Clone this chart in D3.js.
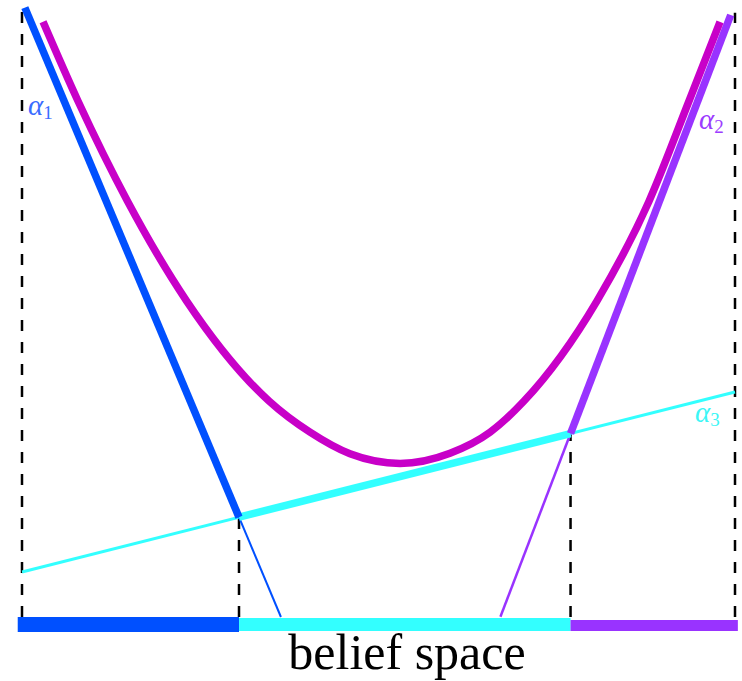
<!DOCTYPE html>
<html>
<head>
<meta charset="utf-8">
<script src="https://cdn.jsdelivr.net/npm/d3@7"></script>
<style>
  html, body { margin: 0; padding: 0; background: #fff; }
  svg { display: block; }
</style>
</head>
<body>
<svg id="chart" width="742" height="681"></svg>
<script>
// Alpha vectors: value of each linear function at belief 0 and belief 1
const alphaNames = ["1", "2", "3"];
const alphaAt0 = [102.7, -208.3, 7.5];
const alphaAt1 = [-180.1, 102.2, 37.5];
// belief range over which each alpha line is drawn
const alphaFrom = [0.004, 0.671, 0.0];
const alphaTo = [0.364, 0.994, 1.0];

// Optimal value function (smooth curve) sampled along the belief axis
const curveBelief = [0.0295, 0.0785, 0.148, 0.2307, 0.3464, 0.4039, 0.46, 0.5302, 0.6003, 0.6564, 0.7041, 0.8065, 0.8794, 0.9355, 0.979];
const curveValue = [99.2, 86.0, 69.3, 52.7, 36.0, 30.8, 27.2, 25.6, 27.3, 30.8, 36.0, 52.7, 69.3, 86.0, 99.2];

// Height of the dashed belief-simplex borders
const borderBelief = [0, 1];
const borderTop = [101.7, 100.7];

// Extent of the partition bar under the belief axis
const barExtent = [-0.006, 1.004];

const axisLabel = "belief space";

const colors = { a1: "#0050ff", a2: "#9933ff", a3: "#33ffff", curve: "#c800c8" };

const svg = d3.select("#chart");
const x = d3.scaleLinear().domain([0, 1]).range([22, 735]);
const y = d3.scaleLinear().domain([0, 100]).range([617, 17]);

const val = (i, b) => alphaAt0[i] + (alphaAt1[i] - alphaAt0[i]) * b;
// belief at which two alpha lines cross
const cross = (i, j) => (alphaAt0[j] - alphaAt0[i]) /
  ((alphaAt1[i] - alphaAt0[i]) - (alphaAt1[j] - alphaAt0[j]));
const b13 = cross(0, 2);
const b23 = cross(1, 2);
const zero = i => -alphaAt0[i] / (alphaAt1[i] - alphaAt0[i]);

const line = d3.line().x(d => x(d[0])).y(d => y(d[1]));
const seg = (i, b0, b1) => [[b0, val(i, b0)], [b1, val(i, b1)]];

// dashed verticals: simplex borders and region boundaries
const dashes = [
  [[borderBelief[0], 0], [borderBelief[0], borderTop[0]]],
  [[borderBelief[1], 0], [borderBelief[1], borderTop[1]]],
  [[b13, 0], [b13, val(2, b13)]],
  [[b23, 0], [b23, val(2, b23)]]
];
svg.append("g").selectAll("path").data(dashes).join("path")
  .attr("d", line)
  .attr("fill", "none")
  .attr("stroke", "#000")
  .attr("stroke-width", 2.5)
  .attr("stroke-dasharray", "11,11");

// thin (dominated) parts of the alpha lines
const thin = [
  { d: seg(2, alphaFrom[2], alphaTo[2]), c: colors.a3, w: 3 },
  { d: seg(0, b13, Math.min(alphaTo[0], zero(0))), c: colors.a1, w: 2 },
  { d: seg(1, Math.max(alphaFrom[1], zero(1)), b23), c: colors.a2, w: 2.5 }
];
svg.append("g").selectAll("path").data(thin).join("path")
  .attr("d", d => line(d.d))
  .attr("fill", "none")
  .attr("stroke", d => d.c)
  .attr("stroke-width", d => d.w);

// thick (upper envelope) parts
const thick = [
  { d: seg(2, b13, b23), c: colors.a3 },
  { d: seg(0, alphaFrom[0], b13), c: colors.a1 },
  { d: seg(1, b23, alphaTo[1]), c: colors.a2 }
];
svg.append("g").selectAll("path").data(thick).join("path")
  .attr("d", d => line(d.d))
  .attr("fill", "none")
  .attr("stroke", d => d.c)
  .attr("stroke-width", 7.5)
  .attr("stroke-linejoin", "round");

// smooth value function
const curvePts = curveBelief.map((b, i) => [b, curveValue[i]]);
svg.append("path")
  .attr("d", d3.line().x(d => x(d[0])).y(d => y(d[1])).curve(d3.curveMonotoneX)(curvePts))
  .attr("fill", "none")
  .attr("stroke", colors.curve)
  .attr("stroke-width", 7.5);

// partition bar: which alpha vector is best on each belief region
const bars = [
  { b0: barExtent[0], b1: b13, c: colors.a1, dy: 0, h: 15 },
  { b0: b13, b1: b23, c: colors.a3, dy: 1, h: 13 },
  { b0: b23, b1: barExtent[1], c: colors.a2, dy: 3, h: 11 }
];
svg.append("g").selectAll("rect").data(bars).join("rect")
  .attr("x", d => x(d.b0))
  .attr("width", d => x(d.b1) - x(d.b0))
  .attr("y", d => y(0) + d.dy)
  .attr("height", d => d.h)
  .attr("fill", d => d.c);

// alpha labels
const labelPos = [[28, 115], [699, 129], [695, 422]];
const labelColor = ["#3a6cff", "#9c3cff", "#3cf6f6"];
alphaNames.forEach((n, i) => {
  const t = svg.append("text")
    .attr("x", labelPos[i][0]).attr("y", labelPos[i][1])
    .attr("font-family", "'Liberation Serif', 'DejaVu Serif', serif")
    .attr("fill", labelColor[i]);
  t.append("tspan").attr("font-style", "italic").attr("font-size", 29).text("α");
  t.append("tspan").attr("font-size", 19).attr("dy", 4).text(n);
});

// axis caption
svg.append("text")
  .attr("x", 407)
  .attr("y", 669)
  .attr("text-anchor", "middle")
  .attr("font-family", "'Liberation Serif', 'Times New Roman', serif")
  .attr("font-size", 50)
  .attr("fill", "#000")
  .text(axisLabel);
</script>
</body>
</html>
